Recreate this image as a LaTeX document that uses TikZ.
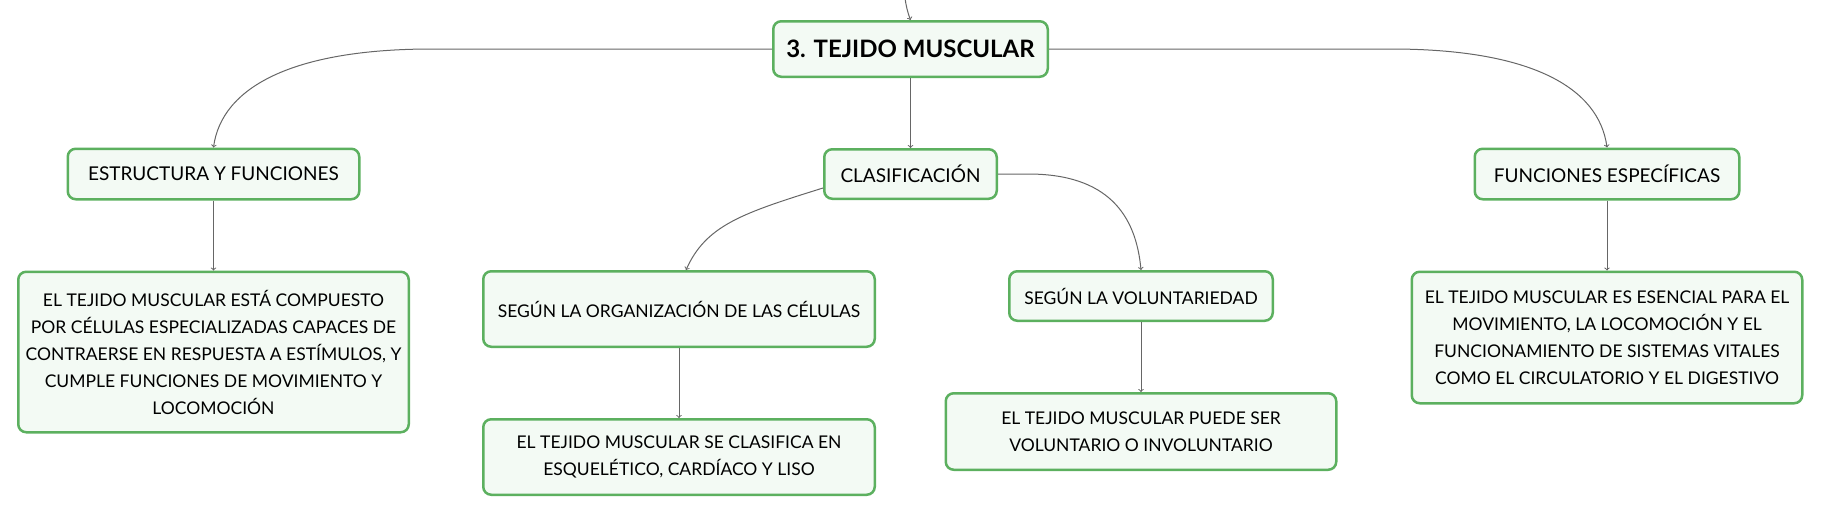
\documentclass[tikz,border=0pt]{standalone}
\usepackage{fontspec}
\setmainfont{Lato}
\usetikzlibrary{positioning}

\definecolor{boxgreen}{HTML}{5CB05F}
\definecolor{boxfill}{HTML}{F3FAF4}
\definecolor{linkgray}{HTML}{666666}

\tikzset{
  topic/.style={draw=boxgreen, fill=boxfill, line width=2.5pt, rounded corners=8pt,
    align=center, inner sep=0pt, text=black,
    font=\fontsize{17.5}{27}\selectfont},
  maintopic/.style={topic, font=\fontsize{19}{27}\selectfont},
  link/.style={draw=linkgray, line width=1pt, ->},
}

\begin{document}
\begin{tikzpicture}[x=1pt, y=-1pt, node distance=70pt]
        \useasboundingbox (0,0) rectangle (1821,517);

        \node [topic, minimum width=274.5pt, minimum height=55.5pt,
               font=\fontsize{24}{28}\selectfont\bfseries] (root) at (910.5,49) {3. TEJIDO MUSCULAR};
        \node [maintopic, below=of root, minimum width=172.5pt, minimum height=49.5pt] (clas) {CLASIFICACIÓN};
        \node [maintopic, left=462.5pt of clas, minimum width=291.5pt, minimum height=50.5pt] (estr) {ESTRUCTURA Y FUNCIONES};
        \node [maintopic, right=475.5pt of clas, minimum width=264.5pt, minimum height=50.5pt] (func) {FUNCIONES ESPECÍFICAS};
        \node [topic, below=of clas, xshift=-231.5pt, minimum width=391.5pt, minimum height=75.5pt] (org) {SEGÚN LA ORGANIZACIÓN DE LAS CÉLULAS};
        \node [topic, below=of clas, xshift=230.5pt, minimum width=263.5pt, minimum height=49.5pt] (vol) {SEGÚN LA VOLUNTARIEDAD};

        \node [topic, below=of estr, minimum width=390.5pt, minimum height=160.5pt] (estrtxt)
          {EL TEJIDO MUSCULAR ESTÁ COMPUESTO\\POR CÉLULAS ESPECIALIZADAS CAPACES DE\\CONTRAERSE EN RESPUESTA A ESTÍMULOS, Y\\CUMPLE FUNCIONES DE MOVIMIENTO Y\\LOCOMOCIÓN};
        \node [topic, below=of org, minimum width=391.5pt, minimum height=75.5pt] (orgtxt)
          {EL TEJIDO MUSCULAR SE CLASIFICA EN\\ESQUELÉTICO, CARDÍACO Y LISO};
        \node [topic, below=of vol, minimum width=390.5pt, minimum height=76.5pt] (voltxt)
          {EL TEJIDO MUSCULAR PUEDE SER\\VOLUNTARIO O INVOLUNTARIO};
        \node [topic, below=of func, minimum width=390.5pt, minimum height=131.5pt] (functxt)
          {EL TEJIDO MUSCULAR ES ESENCIAL PARA EL\\MOVIMIENTO, LA LOCOMOCIÓN Y EL\\FUNCIONAMIENTO DE SISTEMAS VITALES\\COMO EL CIRCULATORIO Y EL DIGESTIVO};

        \coordinate (parent) at (905,-2);

        \draw[link] (parent) to[bend right=6] (root.north);
        \draw[link] (root.south) -- (clas.north);
        \draw[link] (root.west) -- ++(-340,0) .. controls +(-140,0) and +(8,-60) .. (estr.north);
        \draw[link] (root.east) -- ++(342,0) .. controls +(140,0) and +(-8,-60) .. (func.north);
        \draw[link] ([yshift=-14pt]clas.west) .. controls +(-80,25) and +(20,-45) .. ([xshift=7pt]org.north);
        \draw[link] (clas.east) -- ++(30,0) .. controls +(80,0) and +(-5,-55) .. (vol.north);
        \draw[link] (estr.south) -- (estrtxt.north);
        \draw[link] (org.south) -- (orgtxt.north);
        \draw[link] (vol.south) -- (voltxt.north);
        \draw[link] (func.south) -- (functxt.north);
      \end{tikzpicture}
\end{document}
